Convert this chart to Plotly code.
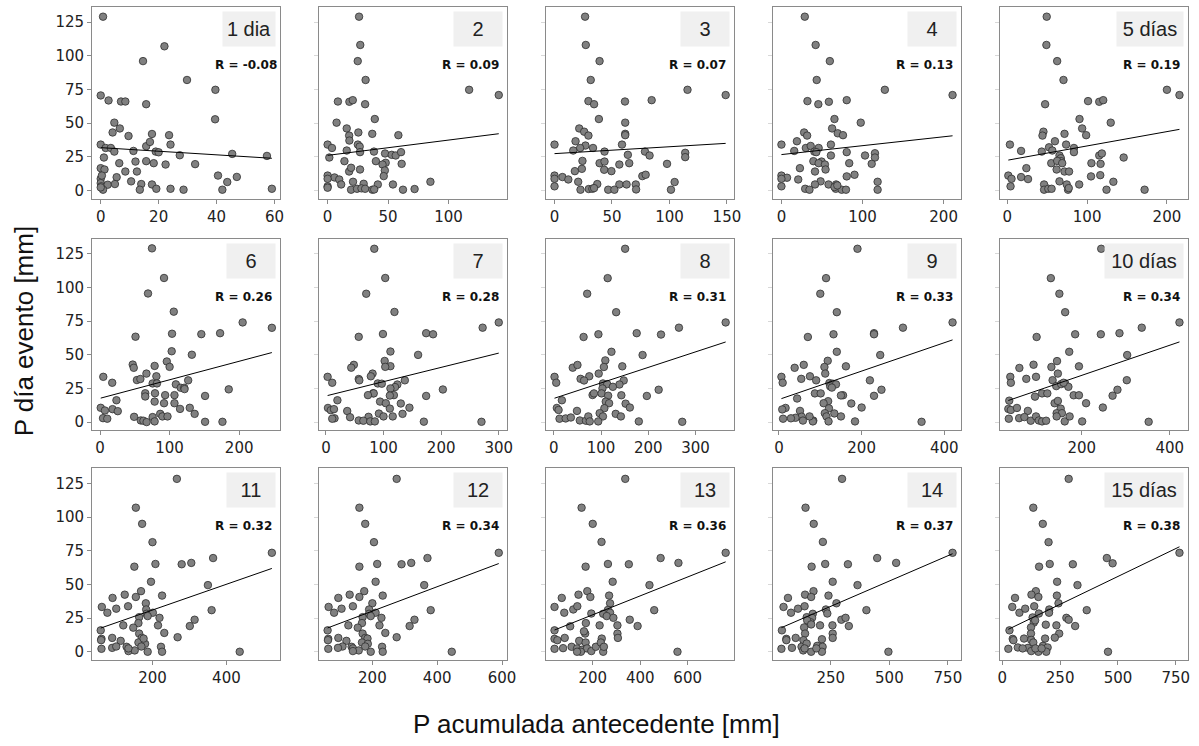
import numpy as np
import plotly.graph_objects as go

LABELS = ["1 dia", "2", "3", "4", "5 días", "6", "7", "8", "9", "10 días",
          "11", "12", "13", "14", "15 días"]
R_TEXT = ["R = -0.08", "R = 0.09", "R = 0.07", "R = 0.13", "R = 0.19",
          "R = 0.26", "R = 0.28", "R = 0.31", "R = 0.33", "R = 0.34",
          "R = 0.32", "R = 0.34", "R = 0.36", "R = 0.37", "R = 0.38"]
DTICK = [20, 50, 50, 100, 100, 100, 100, 100, 200, 200, 200, 200, 200, 250, 250]
Y_TICKS = [0, 25, 50, 75, 100, 125]

P1 = [(0.8,129),(22,107),(14.6,96),(29.8,82),(39.6,74.7),(0,70.5),(2.7,66.8),(7,66),(8.5,66),(15.7,64),(39.5,52.8),(4.7,50.3),(6.6,46),(4.1,43),(9.6,40.4),(17.7,41.9),(23.6,41),(0,34),(24.1,34),(1.7,31.5),(3.5,31.5),(15.7,32.8),(17,36),(4.7,28.8),(11.3,29.3),(19,28.8),(20,28.3),(1.1,24.4),(27.3,26.1),(45.4,27.1),(57.4,25.6),(6.4,20.2),(12,21.4),(15.7,21.7),(18.3,20.2),(22.4,19.2),(32.6,19.5),(0,16.5),(1.3,15.5),(8.5,14),(12.5,14),(40.5,11),(0,8.6),(0.4,11),(5.5,9.8),(10.5,6.7),(43.7,6.2),(47,10),(0,5.4),(0.2,3),(2.4,4.2),(4.9,4.7),(14,4.7),(17.7,4.4),(0.8,0.5),(13.5,0.5),(19.2,1.2),(24.1,1.2),(28.6,0.5),(42,0.5),(59.1,1.2),(0,2.2)]
P2 = [(26,129),(27,108),(24.9,96),(31.4,82),(117,74.7),(141.5,70.8),(8.5,66),(18,65.8),(20.8,67),(31,64),(39,53),(7.4,50.3),(15.8,46),(17.8,40.7),(25.4,43),(36.9,42),(58.5,41),(0,34),(18,37),(3.6,31.5),(25,34),(26.5,32.5),(15.8,29.6),(26.8,28.4),(38.3,28.8),(1.4,24.4),(47.5,27.4),(53,26.4),(56.3,25.9),(60.7,28.4),(13.9,21.7),(39.9,21.7),(48,20.5),(45.4,19.2),(61.2,19.7),(26.8,15.5),(17.8,14),(19.4,16.8),(47.3,14.8),(0,11),(5.7,9.6),(9.6,8.1),(46.4,10.6),(0,8.6),(11.2,4.4),(21,6.4),(85,6.4),(29.8,4.9),(41.5,4.4),(54,4.4),(0,3),(19.4,0.5),(24.3,1.2),(28,1.5),(31,1.2),(37,0.5),(38.5,0.7),(62.3,0.5),(71.9,1),(0,2)]
P3 = [(26.6,129),(27.2,108),(39.2,96),(31.5,82),(115.7,74.7),(148.9,70.8),(29.5,66.3),(34.4,64),(61.3,66),(84.5,67),(38.6,53),(61.5,50.3),(21.5,46),(25.8,43.6),(29.5,40.7),(61.5,42),(61.5,41),(0,34),(18.3,36.5),(26.9,33.3),(22.3,31.5),(33.5,31.5),(58.7,34),(16.3,29.6),(43.5,28.8),(78.7,28.8),(82.7,25.9),(63.8,26.4),(24.3,21.9),(39.2,20.2),(43.5,21.4),(56.4,19.2),(65,20.2),(97.9,19.7),(113.7,27.9),(113.7,24.7),(17.7,14.3),(23.8,16),(43.2,15.3),(49.5,14.3),(0,11),(6.9,9.9),(12,8.1),(76.4,10.6),(79.3,11.6),(0,8.6),(20.6,6.4),(104.5,6.2),(37.2,4.7),(56.4,4.4),(62.7,4.4),(70.7,4.4),(0,3),(22.6,0.5),(29.8,1),(32.9,1.2),(34.4,1.7),(46.7,0.5),(52.1,0.5),(71,0.7),(101.3,0.5)]
P4 = [(28.8,129),(42.2,108),(59.7,96),(43.5,82),(127.5,74.7),(211,70.8),(32.1,66.3),(45.5,64),(58.5,65.8),(80.5,67),(65.4,53),(97.8,50.3),(62.5,46),(28,43),(31.7,40.7),(69.4,42.4),(75.9,41),(0,34),(19.1,36.5),(30.1,31.5),(36.1,33),(45.9,31.5),(61,34),(15.8,29.3),(40.6,28.8),(43,28.4),(61,25.9),(80.5,28.4),(103.1,25.9),(115.3,27.6),(115.3,24.4),(39.4,21.7),(49.5,21.4),(45.9,20.2),(53.6,19.2),(83.6,20.2),(111.3,19.7),(22.8,16.5),(54.4,15.5),(41.4,14),(0,11),(6.9,9.4),(80.5,10.4),(90.1,11.6),(0,8.6),(20.7,8.1),(48.3,6.7),(118.6,6.4),(41.4,4.4),(58.1,4.4),(67.4,4.4),(0,3),(29.3,1.2),(34.6,0.5),(67,1.2),(74.3,0.5),(79.6,0.5),(118.6,0.5),(65.4,2.5),(68.9,3.7)]
P5 = [(49.4,129),(49,108),(62.5,96),(70.4,82),(200,74.7),(215.7,70.8),(47.4,64),(101.2,66.3),(115.2,65.8),(120.2,67),(90.5,53),(129.6,50.3),(93.8,46),(45.3,43.6),(44.1,40.7),(71.7,42),(98.8,41),(3.3,34),(59.7,36.5),(73.7,34),(52.3,32),(83.5,31.5),(56.4,29.6),(43.2,28.8),(17.3,29.3),(83.5,28.4),(65.4,25.9),(67.1,23.9),(115.2,25.9),(118.5,27.4),(145.8,24.4),(55.1,20.2),(67.5,21.7),(62.5,21.9),(68.8,20.2),(105.4,20.2),(116.9,19.7),(23.9,16.5),(61.8,15.5),(71.7,14),(77.4,14),(1.3,11),(17.3,9.9),(26,8.4),(104.9,10.4),(116.5,11.3),(5.3,8.6),(65.4,6.7),(132.9,6.4),(46.1,4.4),(74.5,4.4),(90.1,4.4),(4.1,3),(46.1,0.5),(51.4,1.2),(55.5,1.2),(76.1,0.5),(77,1.7),(124.3,0.5),(172,0.5)]
P6 = [(74.7,129),(92,107),(69,95.5),(106,82),(205,74),(247,70),(51,63.4),(103.5,65.6),(145.6,65.3),(172.6,66),(103,52.6),(132,50),(96,45),(47,42.7),(48.5,40.3),(78.5,41.7),(100,41),(66.7,36),(4.7,33.6),(81,34),(53,31.2),(58,32),(126.7,31),(17.5,29.2),(75.6,28.7),(81.8,28.7),(109,28),(116,25.5),(121,25.5),(121.5,24.5),(185,24.3),(79,21.4),(65,21.4),(93.6,20),(107,20),(65,19),(151,19.4),(23.6,16.2),(78.5,15.2),(92,14),(107,14),(1,10.6),(7,8.6),(18,9.6),(25.5,8.1),(115,9.8),(129,10.6),(136,6.1),(86.5,6.1),(89.7,4.2),(97,4.2),(49,3.9),(75.6,3.7),(4.3,2.9),(10.4,2.5),(58.6,1.2),(62.4,1),(78.5,0.5),(67,0),(151,0.2),(176,0.2)]
P7 = [(84,128.7),(103,107),(70,95.3),(119,81.8),(300,74),(272,70.1),(174,66),(99,65.4),(186,65.2),(57,63.3),(112,52.4),(160,49.9),(102,45.4),(48.5,42.5),(112,41.5),(103,41),(44,40.4),(81,36),(78,34),(3,33.6),(57,32),(58,31),(137,31),(11,29.2),(90,28.7),(97,28.5),(124,27.9),(120,26),(112,25),(203,24.2),(82,21.4),(83,21.3),(73,20),(118,20),(111,19.7),(174,19.4),(20,16.2),(94,15.2),(104,14),(130,13.8),(145,10.7),(3.6,10.5),(111,10),(8.5,8.8),(37,8.2),(14,9.6),(133,6.1),(92,6.3),(116,4.2),(100,4.2),(42,3.6),(74,3.9),(15,2.8),(11,2.5),(57,1.2),(65,1),(77,0.5),(85,0.5),(170,0.3),(270,0.2)]
P8 = [(151,128.7),(114,106.9),(70.6,95.3),(132,81.6),(364,74),(265,70.1),(63,63.2),(94.4,65.2),(175.5,66),(227,65),(122,52.2),(188,49.8),(109,45.8),(40,40.4),(50,42.4),(106,40.9),(145,41.4),(1.4,33.6),(75,34),(56.6,32.1),(95,36),(5,29.2),(64,30.9),(104,28.7),(113,28.2),(148,30.9),(139,27.9),(125,26.2),(103,25),(17,16.2),(82,20.1),(85,21.3),(101,21.3),(143,19.9),(222,24),(197,19.4),(115,19.6),(110,15.2),(117,14),(152,13.7),(161,10.8),(6.3,10.5),(10,9),(49,8.3),(107,10.3),(97,6.6),(131,6.1),(142,4.2),(104,4.2),(12,2.5),(25,2.7),(36,3.4),(55,1.2),(68,1),(73,4.2),(76,0.5),(94,0.5),(180,0.5),(272,0.2)]
P9 = [(190,128.7),(114,106.9),(100,95.3),(140,81.6),(420,74),(300,70.1),(230,66),(132,65.2),(230,65.2),(70,63.2),(140,52.2),(245,49.8),(118,45.5),(60,42.5),(162,41.4),(110,40.9),(38,40.3),(112,36),(75,34),(6,33.6),(54,32.1),(90,31),(220,31),(9,29.2),(122,29),(130,28.5),(138,28),(124,26.5),(128,25.6),(248,24),(87,21.3),(101,21.3),(155,19.9),(150,19.8),(230,19.5),(44,17.5),(119,15.5),(108,14),(175,13.8),(200,10.8),(16,10.5),(121,10.2),(8,9.4),(51,8.3),(111,6.6),(134,6.4),(150,4.2),(115,4.2),(55,4),(40,3.2),(29,2.8),(10,2.5),(58,1.1),(83,1.1),(82,0.5),(120,0.5),(184,0.5),(345,0.2),(74,4.2)]
P10 = [(244.1,128.7),(129.6,106.9),(149,95.3),(162.2,81.6),(421.9,74),(336.2,70.1),(97.3,63.2),(184.9,65.2),(243.2,65.2),(285.6,66),(171.4,52.2),(303.1,49.8),(143.7,45.3),(130.9,40.9),(90.3,42.6),(58.1,40.2),(193.5,41.4),(37.5,33.6),(38.8,29.2),(95.9,33.6),(73.8,32.1),(145.6,36),(133.6,31.1),(141.9,26.7),(153,28.2),(162.2,28.7),(169.5,26.2),(158.5,29.2),(302.2,31.1),(281,24),(269.9,19.6),(93.6,18.9),(109.7,21.3),(121.6,21.3),(181.5,19.9),(193.5,19.9),(209.7,14),(138.2,14),(145.6,15.7),(152,10),(35.1,15.9),(33,9.8),(38.8,9),(52.6,10.5),(77.4,8.3),(247.8,10.8),(142.8,6.6),(154.8,6.6),(34.1,2.5),(57.6,2.9),(69.6,3.7),(83.9,1),(95.9,4.2),(102.3,1.2),(109.7,0.5),(118.9,1),(142.8,4.2),(161.2,0.5),(172.3,4.2),(200.8,0.5),(351.9,0.2)]
P11 = [(266,128.4),(155,107),(172,95),(200,81.4),(523,73.5),(364,69.6),(151,63.2),(208,65.2),(279,65),(305,66),(196,52),(350,49.5),(169,45),(125,42.4),(92,40),(155,40.7),(226,41.7),(63,33.3),(182,36),(78,29),(102,32),(134,33.8),(183,31.4),(164,25.7),(184,28.2),(201,29),(187,26.5),(219,25.2),(360,30.9),(314,23.8),(121,19.6),(162,21.3),(215,19.6),(301,19.1),(60,15.9),(164,13.5),(232,14),(62,9.6),(91,10.3),(114,8.1),(148,17.9),(61,8.6),(171,10.3),(268,10.8),(162,6.9),(180,5.9),(130,3.7),(62,2.2),(91,2.9),(102,3.9),(135,0.5),(152,1),(170,3.9),(187,0),(223,3.7),(226,0),(436,0),(176,9.8),(135,2.5)]
P12 = [(275,128.4),(160,107),(178,95),(205,81.4),(590,73.5),(370,69.6),(320,66),(215,65.2),(290,65),(160,63.2),(210,52),(360,49.5),(175,45),(130,42.4),(232,41.7),(160,40.7),(95,40),(200,36),(140,33.8),(65,33.3),(105,32),(190,31.4),(380,30.9),(82,29),(210,29),(190,28.2),(195,26.5),(170,25.7),(228,25.2),(330,23.8),(168,21.3),(126,19.6),(222,19.6),(315,19.1),(155,17.9),(62,15.9),(240,14),(170,13.5),(275,10.8),(95,10.3),(178,10.3),(185,9.8),(64,9.6),(63,8.6),(120,8.1),(168,6.9),(186,5.9),(108,3.9),(178,3.9),(136,3.7),(230,3.7),(94,2.9),(140,2.5),(64,2.2),(158,1),(140,0.5),(195,0),(232,0),(445,0)]
P13 = [(337,128.4),(153,107),(200,95),(237,81.6),(760,73.5),(561,66),(486,69.6),(170,63.2),(264,65.2),(352,65),(284,52),(439,49.5),(177,45),(140,42.4),(69.5,40),(190,40.7),(269,41.7),(39,33.3),(273,36),(80,29),(118,31.4),(135,33.8),(264,31.1),(194,28.4),(244,28.2),(273,29),(259,26.5),(287,25.2),(459,30.9),(389,19.1),(171,21.3),(229,19.6),(356,23.8),(105,18.9),(39,15.9),(304,19.6),(304,13.5),(306,10.3),(168,13.5),(163,15.2),(39,9.6),(51,8.6),(82,10.3),(111,3.7),(75,2.7),(39,2.2),(143,8.1),(170,6.9),(134,2.5),(155,1.5),(176,2.5),(194,0.5),(213,3.7),(238,9.8),(234,6.9),(244,0),(247,3.7),(557,0),(150,0),(134,0)]
P14 = [(298,128.4),(142,107),(177,95),(216,81.6),(770,73.5),(529,66),(448,69.6),(168,63.2),(226,65.2),(323,65),(258,52),(364,49.5),(176,45),(140,42.4),(67,40),(166,40.7),(240,41.7),(48,33.3),(274,36),(80,29),(110,32),(138,33.8),(229,31.4),(147,25.7),(235,28.4),(173,28.2),(402,30.9),(295,23.8),(313,25.2),(327,19.1),(204,19.6),(257,19.6),(170,25.2),(163,22),(149,23.3),(166,20.3),(41,15.9),(136,18.1),(140,13.5),(258,13.5),(258,10.3),(60,9.6),(60,8.6),(100,10.3),(133,8.6),(84,2.9),(39,2.2),(125,3.7),(147,6.1),(132,1),(166,0),(192,4.4),(212,9.3),(215,3.7),(212,0),(496,0),(138,2.5),(188,2.5)]
P15 = [(287,128.4),(134,107),(175,95),(200,81.4),(766,73.5),(477,65.7),(452,69.6),(159,63.2),(205,65.2),(305,65),(237,52),(325,49.5),(145,45),(126,42.4),(55,40),(156,40.7),(236,41.7),(43,33.3),(243,36),(74,29),(99,32),(138,33.8),(203,31.4),(131,25.5),(202,29),(158,28.4),(365,30.9),(277,25.2),(287,23.8),(315,19.1),(188,20.1),(234,19.6),(136,21.6),(142,23.3),(246,13.5),(227,10.5),(31,15.9),(124,18.1),(124,13.5),(45,9.6),(48,8.6),(94,9.8),(125,8.8),(67,3.2),(26,2.2),(111,2.9),(134,6.9),(125,0.5),(156,0),(176,4.4),(185,9.8),(196,3.2),(190,0),(457,0),(143,2.5),(170,2.5),(88,2.5)]

PANELS = [P1, P2, P3, P4, P5, P6, P7, P8, P9, P10, P11, P12, P13, P14, P15]

W, H = 1199, 746
COL_LEFT = [91, 320, 549, 778, 1007]
ROW_TOP = [7, 239, 469]
PW, PH = 190, 192
Y_RANGE = [-6.2, 136.2]

fig = go.Figure()
layout = dict(width=W, height=H, margin=dict(l=0, r=0, t=0, b=0),
              paper_bgcolor="white", plot_bgcolor="white", showlegend=False)
annotations = []
axis_line = "#8a8a8a"
tick_font = dict(family="DejaVu Sans", size=15, color="#222222")

for i, pts in enumerate(PANELS):
    k = i + 1
    r, c = divmod(i, 5)
    xs = np.array([p[0] for p in pts], dtype=float)
    ys = np.array([p[1] for p in pts], dtype=float)
    lo, hi = xs.min(), xs.max()
    pad = 0.05 * (hi - lo)
    xr = [lo - pad, hi + pad]
    xname = "x" if k == 1 else f"x{k}"
    yname = "y" if k == 1 else f"y{k}"
    fig.add_trace(go.Scatter(
        x=xs, y=ys, mode="markers", xaxis=xname, yaxis=yname,
        marker=dict(size=7.5, color="#808080",
                    line=dict(color="#2e2e2e", width=0.8)),
        hoverinfo="skip"))
    slope, icpt = np.polyfit(xs, ys, 1)
    lx = np.array([lo, hi])
    fig.add_trace(go.Scatter(
        x=lx, y=slope * lx + icpt, mode="lines", xaxis=xname, yaxis=yname,
        line=dict(color="black", width=1), hoverinfo="skip"))
    l = COL_LEFT[c]
    t = ROW_TOP[r]
    layout[f"xaxis{k}"] = dict(
        domain=[l / W, (l + PW) / W], anchor=yname, range=xr,
        tick0=0, dtick=DTICK[i], showgrid=False, zeroline=False,
        showline=True, mirror=True, linecolor=axis_line, linewidth=1,
        ticks="outside", ticklen=4, tickcolor=axis_line, tickfont=tick_font)
    layout[f"yaxis{k}"] = dict(
        domain=[1 - (t + PH) / H, 1 - t / H], anchor=xname, range=Y_RANGE,
        tickvals=Y_TICKS, showgrid=False, zeroline=False,
        showline=True, mirror=True, linecolor=axis_line, linewidth=1,
        ticks="outside", ticklen=4,
        tickcolor=axis_line if c == 0 else "#d8d8d8",
        showticklabels=(c == 0), tickfont=tick_font)
    lab = LABELS[i]
    bw = 48 if len(lab) <= 2 else (52 if lab == "1 dia" else (66 if len(lab) <= 6 else 78))
    annotations.append(dict(
        text=lab, xref=f"{xname} domain", yref=f"{yname} domain",
        x=1 - 4 / PW, y=1 - 4 / PH, xanchor="right", yanchor="top",
        showarrow=False, bgcolor="#f0f0f0", width=bw, height=34, borderpad=0,
        font=dict(family="Liberation Sans", size=20, color="#222222")))
    annotations.append(dict(
        text=f"<b>{R_TEXT[i]}</b>", xref=f"{xname} domain", yref=f"{yname} domain",
        x=122 / PW, y=1 - 58 / PH, xanchor="left", yanchor="middle",
        showarrow=False,
        font=dict(family="DejaVu Sans", size=12, color="#111111")))

annotations.append(dict(
    text="P día evento [mm]", xref="paper", yref="paper",
    x=22 / W, y=1 - 331 / H, xanchor="center", yanchor="middle",
    textangle=-90, showarrow=False,
    font=dict(family="Liberation Sans", size=26, color="#111111")))
annotations.append(dict(
    text="P acumulada antecedente [mm]", xref="paper", yref="paper",
    x=600 / W, y=1 - 725 / H, xanchor="center", yanchor="middle",
    showarrow=False,
    font=dict(family="Liberation Sans", size=26, color="#111111")))

layout["annotations"] = annotations
fig.update_layout(**layout)
fig.write_html("out.html",
               config={"displayModeBar": False, "staticPlot": True},
               post_script="document.body.style.margin='0';"
                           "document.body.style.overflow='hidden';")
